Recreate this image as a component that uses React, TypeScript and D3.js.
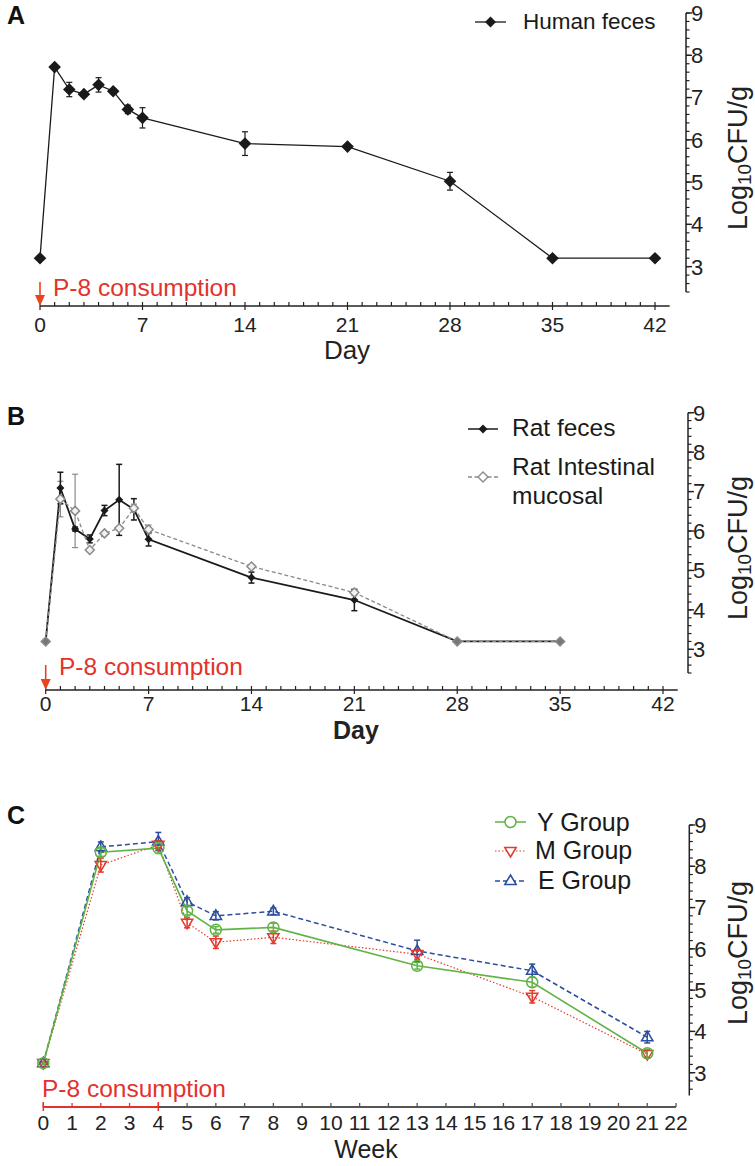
import React from "react";
import * as d3 from "d3";

// ---------- Data ----------
const daysA = [0, 1, 2, 3, 4, 5, 6, 7, 14, 21, 28, 35, 42];
const humanFeces = [3.2, 7.72, 7.19, 7.08, 7.3, 7.15, 6.72, 6.52, 5.91, 5.84, 5.02, 3.2, 3.2];
const humanFecesErr = [0, 0.05, 0.17, 0.04, 0.17, 0.06, 0.1, 0.24, 0.28, 0.04, 0.21, 0, 0];

const daysB = [0, 1, 2, 3, 4, 5, 6, 7, 14, 21, 28, 35];
const ratFeces = [3.2, 7.09, 6.05, 5.8, 6.52, 6.79, 6.55, 5.79, 4.82, 4.25, 3.2, 3.2];
const ratFecesErr = [0, 0.4, 0.05, 0.1, 0.13, 0.9, 0.27, 0.17, 0.14, 0.27, 0, 0];
const ratMucosal = [3.2, 6.81, 6.51, 5.52, 5.94, 6.07, 6.58, 6.04, 5.1, 4.44, 3.2, 3.2];
const ratMucosalErr = [0, 0.45, 0.93, 0.05, 0.03, 0.03, 0.1, 0.11, 0.05, 0.08, 0, 0];

const weeks = [0, 2, 4, 5, 6, 8, 13, 17, 21];
const yGroup = [3.23, 8.34, 8.44, 6.92, 6.46, 6.52, 5.59, 5.19, 3.47];
const yGroupErr = [0.03, 0.1, 0.13, 0.1, 0.08, 0.1, 0.08, 0.12, 0.1];
const mGroup = [3.23, 8.03, 8.52, 6.63, 6.16, 6.28, 5.87, 4.84, 3.45];
const mGroupErr = [0.03, 0.17, 0.1, 0.12, 0.15, 0.15, 0.12, 0.15, 0.1];
const eGroup = [3.23, 8.47, 8.6, 7.14, 6.8, 6.91, 5.95, 5.47, 3.86];
const eGroupErr = [0.03, 0.12, 0.22, 0.1, 0.1, 0.08, 0.26, 0.16, 0.14];

const dayTicks = [0, 7, 14, 21, 28, 35, 42];
const weekTicks = d3.range(0, 23);
const yTicks = [3, 4, 5, 6, 7, 8, 9];

const FONT = "'Liberation Sans', Arial, Helvetica, sans-serif";
const RED = "#e3322b";
const GREEN = "#62b346";
const MRED = "#e33a2c";
const BLUE = "#2b4ea0";

type Pt = { x: number; y: number; e: number };
const zip = (xs: number[], ys: number[], es: number[]): Pt[] =>
  xs.map((x, i) => ({ x, y: ys[i], e: es[i] }));

function RightAxis({ y, x, labelCy }: { y: d3.ScaleLinear<number, number>; x: number; labelCy: number }) {
  const [d0, d1] = y.domain();
  const minors = d3.range(Math.ceil(d0 * 5) / 5, d1 + 0.001, 0.2);
  return (
    <g>
      <line x1={x} x2={x} y1={y(d1)} y2={y(d0)} stroke="#222" strokeWidth={1.5} />
      {minors.map((v, i) => (
        <line key={i} x1={x} x2={x + 3.5} y1={y(v)} y2={y(v)} stroke="#222" strokeWidth={1.2} />
      ))}
      {yTicks.map((v) => (
        <g key={v}>
          <line x1={x} x2={x + 6} y1={y(v)} y2={y(v)} stroke="#222" strokeWidth={1.4} />
          <text x={x + 5} y={y(v)} dy="0.36em" fontSize={22} fill="#222" fontFamily={FONT}>
            {v}
          </text>
        </g>
      ))}
      <text
        transform={`translate(737,${labelCy}) rotate(-90)`}
        textAnchor="middle"
        fontSize={27}
        fill="#222"
        fontFamily={FONT}
        dy="0.36em"
      >
        Log<tspan fontSize={19} dy="0.25em">10</tspan>
        <tspan dy="-0.18em">CFU/g</tspan>
      </text>
    </g>
  );
}

function ErrorBars({ pts, x, y, color, w = 1.2 }: { pts: Pt[]; x: any; y: any; color: string; w?: number }) {
  return (
    <g stroke={color} strokeWidth={w}>
      {pts
        .filter((p) => p.e > 0)
        .map((p, i) => (
          <g key={i}>
            <line x1={x(p.x)} x2={x(p.x)} y1={y(p.y - p.e)} y2={y(p.y + p.e)} />
            <line x1={x(p.x) - 3} x2={x(p.x) + 3} y1={y(p.y - p.e)} y2={y(p.y - p.e)} />
            <line x1={x(p.x) - 3} x2={x(p.x) + 3} y1={y(p.y + p.e)} y2={y(p.y + p.e)} />
          </g>
        ))}
    </g>
  );
}

const diamond = (cx: number, cy: number, r: number) =>
  `M${cx},${cy - r}L${cx + r},${cy}L${cx},${cy + r}L${cx - r},${cy}Z`;
const triUp = (cx: number, cy: number, r: number) =>
  `M${cx},${cy - r}L${cx + r * 0.95},${cy + r * 0.6}L${cx - r * 0.95},${cy + r * 0.6}Z`;
const triDown = (cx: number, cy: number, r: number) =>
  `M${cx},${cy + r}L${cx + r * 0.95},${cy - r * 0.6}L${cx - r * 0.95},${cy - r * 0.6}Z`;

function DayAxis({ x, y0, bold, labelY, labelX, tickDy }: { x: any; y0: number; bold: boolean; labelY: number; labelX: number; tickDy: number }) {
  const minor = d3.range(0, 43);
  return (
    <g>
      <line x1={x(0)} x2={x(43)} y1={y0} y2={y0} stroke="#222" strokeWidth={1.6} />
      {minor.map((d) => (
        <line key={d} x1={x(d)} x2={x(d)} y1={y0 - 4} y2={y0 + (d % 7 === 0 ? 4 : 0)} stroke="#222" strokeWidth={1.2} />
      ))}
      {dayTicks.map((d) => (
        <text key={d} x={x(d)} y={y0 + tickDy} textAnchor="middle" fontSize={21} fill="#222" fontFamily={FONT}>
          {d}
        </text>
      ))}
      <text
        x={labelX}
        y={labelY}
        textAnchor="middle"
        fontSize={bold ? 25 : 26}
        fontWeight={bold ? "bold" : "normal"}
        fill="#222"
        fontFamily={FONT}
      >
        Day
      </text>
    </g>
  );
}

function RedArrow({ x, y1, y2 }: { x: number; y1: number; y2: number }) {
  return (
    <g>
      <line x1={x} x2={x} y1={y1} y2={y2 - 8} stroke="#e8441f" strokeWidth={1.6} />
      <path d={`M${x - 5},${y2 - 11}L${x + 5},${y2 - 11}L${x},${y2}Z`} fill="#e8441f" />
    </g>
  );
}

function PanelA() {
  const x = d3.scaleLinear().domain([0, 42]).range([40, 655]);
  const y = d3.scaleLinear().domain([2.4, 9]).range([292, 13]);
  const pts = zip(daysA, humanFeces, humanFecesErr);
  const line = d3.line<Pt>().x((p) => x(p.x)).y((p) => y(p.y));
  return (
    <g>
      <text x={7} y={24} fontSize={25} fontWeight="bold" fontFamily={FONT} fill="#111">A</text>
      <path d={line(pts) || ""} fill="none" stroke="#1a1a1a" strokeWidth={1.3} />
      <ErrorBars pts={pts} x={x} y={y} color="#1a1a1a" />
      {pts.map((p, i) => (
        <path key={i} d={diamond(x(p.x), y(p.y), 6.3)} fill="#1a1a1a" />
      ))}
      <DayAxis x={x} y0={306} bold={false} labelY={359} labelX={347} tickDy={26} />
      <RightAxis y={y} x={686} labelCy={158} />
      <RedArrow x={40} y1={282} y2={306} />
      <text x={53} y={296} fontSize={24.5} fill={RED} fontFamily={FONT}>P-8 consumption</text>
      {/* legend */}
      <line x1={475} x2={506} y1={22} y2={22} stroke="#1a1a1a" strokeWidth={1.3} />
      <path d={diamond(490.5, 22, 5.5)} fill="#1a1a1a" />
      <text x={523} y={29} fontSize={22.5} fill="#1a1a1a" fontFamily={FONT}>Human feces</text>
    </g>
  );
}

function PanelB() {
  const x = d3.scaleLinear().domain([0, 42]).range([45.7, 663]);
  const y = d3.scaleLinear().domain([2.4, 9]).range([673, 412.7]);
  const f = zip(daysB, ratFeces, ratFecesErr);
  const m = zip(daysB, ratMucosal, ratMucosalErr);
  const line = d3.line<Pt>().x((p) => x(p.x)).y((p) => y(p.y));
  return (
    <g>
      <text x={7} y={425} fontSize={25} fontWeight="bold" fontFamily={FONT} fill="#111">B</text>
      <ErrorBars pts={m} x={x} y={y} color="#8a8a8a" />
      <path d={line(f) || ""} fill="none" stroke="#1a1a1a" strokeWidth={1.8} />
      <ErrorBars pts={f} x={x} y={y} color="#1a1a1a" w={1.5} />
      <path d={line(m) || ""} fill="none" stroke="#8a8a8a" strokeWidth={1.3} strokeDasharray="4,2.5" />
      {f.map((p, i) => (
        <path key={i} d={diamond(x(p.x), y(p.y), 4)} fill="#1a1a1a" />
      ))}
      {m.map((p, i) => (
        <path key={i} d={diamond(x(p.x), y(p.y), 4.5)} fill={i === 0 || i >= 10 ? "#777" : "#f2f2f2"} stroke="#8a8a8a" strokeWidth={1.5} />
      ))}
      <DayAxis x={x} y0={690} bold={true} labelY={739} labelX={356} tickDy={21} />
      <RightAxis y={y} x={688} labelCy={548} />
      <RedArrow x={45.7} y1={665} y2={690} />
      <text x={59} y={675} fontSize={24.5} fill={RED} fontFamily={FONT}>P-8 consumption</text>
      {/* legend */}
      <line x1={468} x2={498} y1={429} y2={429} stroke="#1a1a1a" strokeWidth={1.5} />
      <path d={diamond(483, 429, 4.5)} fill="#1a1a1a" />
      <text x={512} y={436} fontSize={24.5} fill="#1a1a1a" fontFamily={FONT}>Rat feces</text>
      <line x1={468} x2={498} y1={477} y2={477} stroke="#8a8a8a" strokeWidth={1.3} strokeDasharray="4,2.5" />
      <path d={diamond(483, 477, 5)} fill="#fff" stroke="#8a8a8a" strokeWidth={1.4} />
      <text x={512} y={475} fontSize={24.5} fill="#1a1a1a" fontFamily={FONT}>Rat Intestinal</text>
      <text x={512} y={504} fontSize={24.5} fill="#1a1a1a" fontFamily={FONT}>mucosal</text>
    </g>
  );
}

function PanelC() {
  const x = d3.scaleLinear().domain([0, 22]).range([43.3, 676]);
  const y = d3.scaleLinear().domain([2.45, 9]).range([1095.4, 825]);
  const yg = zip(weeks, yGroup, yGroupErr);
  const mg = zip(weeks, mGroup, mGroupErr);
  const eg = zip(weeks, eGroup, eGroupErr);
  const line = d3.line<Pt>().x((p) => x(p.x)).y((p) => y(p.y));
  const y0 = 1107;
  return (
    <g>
      <text x={7} y={824} fontSize={25} fontWeight="bold" fontFamily={FONT} fill="#111">C</text>
      <path d={line(eg) || ""} fill="none" stroke={BLUE} strokeWidth={1.5} strokeDasharray="5,3" />
      <path d={line(mg) || ""} fill="none" stroke={MRED} strokeWidth={1.2} strokeDasharray="1.5,2" />
      <path d={line(yg) || ""} fill="none" stroke={GREEN} strokeWidth={1.6} />
      <ErrorBars pts={eg} x={x} y={y} color={BLUE} w={1.5} />
      <ErrorBars pts={mg} x={x} y={y} color={MRED} w={1.5} />
      <ErrorBars pts={yg} x={x} y={y} color={GREEN} w={1.5} />
      {eg.map((p, i) => (
        <path key={"e" + i} d={triUp(x(p.x), y(p.y), 6)} fill="none" stroke={BLUE} strokeWidth={1.5} />
      ))}
      {mg.map((p, i) => (
        <path key={"m" + i} d={triDown(x(p.x), y(p.y), 6)} fill="none" stroke={MRED} strokeWidth={1.5} />
      ))}
      {yg.map((p, i) => (
        <circle key={"y" + i} cx={x(p.x)} cy={y(p.y)} r={5.5} fill="none" stroke={GREEN} strokeWidth={1.5} />
      ))}
      {/* x axis */}
      <line x1={x(4)} x2={x(22)} y1={y0} y2={y0} stroke="#555" strokeWidth={2} />
      {weekTicks.map((w) => (
        <line key={w} x1={x(w)} x2={x(w)} y1={y0 - 4} y2={y0} stroke={w <= 4 ? RED : "#555"} strokeWidth={1.3} />
      ))}
      <line x1={x(0)} x2={x(4)} y1={y0} y2={y0} stroke={RED} strokeWidth={2} />
      <line x1={x(0)} x2={x(0)} y1={y0 - 5} y2={y0 + 4} stroke={RED} strokeWidth={1.5} />
      <line x1={x(4)} x2={x(4)} y1={y0 - 5} y2={y0 + 4} stroke={RED} strokeWidth={1.5} />
      {weekTicks.map((w) => (
        <text key={w} x={x(w)} y={y0 + 23} textAnchor="middle" fontSize={21} fill="#222" fontFamily={FONT}>
          {w}
        </text>
      ))}
      <text x={366} y={1158} textAnchor="middle" fontSize={25} fill="#222" fontFamily={FONT}>Week</text>
      <text x={42} y={1097} fontSize={24.5} fill={RED} fontFamily={FONT}>P-8 consumption</text>
      <RightAxis y={y} x={689.3} labelCy={953} />
      {/* legend */}
      <line x1={495} x2={526} y1={822} y2={822} stroke={GREEN} strokeWidth={1.5} />
      <circle cx={510.5} cy={822} r={5.5} fill="#fff" stroke={GREEN} strokeWidth={1.5} />
      <text x={537} y={831} fontSize={25} fill="#1a1a1a" fontFamily={FONT}>Y Group</text>
      <line x1={495} x2={526} y1={851} y2={851} stroke={MRED} strokeWidth={1.2} strokeDasharray="1.5,2" />
      <path d={triDown(510.5, 851, 6)} fill="#fff" stroke={MRED} strokeWidth={1.5} />
      <text x={535} y={859} fontSize={25} fill="#1a1a1a" fontFamily={FONT}>M Group</text>
      <line x1={495} x2={526} y1={881} y2={881} stroke={BLUE} strokeWidth={1.5} strokeDasharray="5,3" />
      <path d={triUp(510.5, 881, 6)} fill="#fff" stroke={BLUE} strokeWidth={1.5} />
      <text x={538} y={889} fontSize={25} fill="#1a1a1a" fontFamily={FONT}>E Group</text>
    </g>
  );
}

export default function App() {
  return (
    <svg
      width={755}
      height={1166}
      viewBox="0 0 755 1166"
      style={{ position: "absolute", left: 0, top: 0, background: "#fff" }}
    >
      <rect width={755} height={1166} fill="#fff" />
      <PanelA />
      <PanelB />
      <PanelC />
    </svg>
  );
}
